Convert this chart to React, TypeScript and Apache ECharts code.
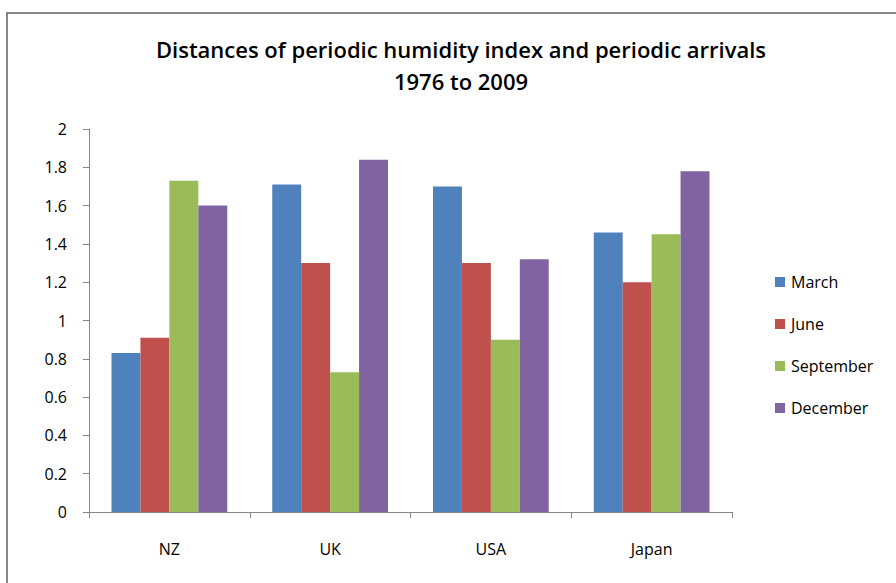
import React, { useEffect, useRef } from "react";
import * as echarts from "echarts";

const categories = ["NZ", "UK", "USA", "Japan"];
const seriesNames = ["March", "June", "September", "December"];
const march = [0.83, 1.71, 1.7, 1.46];
const june = [0.91, 1.3, 1.3, 1.2];
const september = [1.73, 0.73, 0.9, 1.45];
const december = [1.6, 1.84, 1.32, 1.78];
const colors = ["#4F81BD", "#C0504D", "#9BBB59", "#8064A2"];

const FONT = "'Open Sans', Lato, sans-serif";

export default function App() {
  const ref = useRef<HTMLDivElement>(null);
  useEffect(() => {
    if (!ref.current) return;
    const chart = echarts.init(ref.current, null, { renderer: "svg" });
    const values = [march, june, september, december];
    chart.setOption({
      animation: false,
      backgroundColor: "#ffffff",
      textStyle: { fontFamily: FONT },
      title: {
        text: "Distances of periodic humidity index and periodic arrivals\n1976 to 2009",
        left: 456,
        textAlign: "center",
        top: 28,
        textStyle: {
          fontFamily: FONT,
          fontSize: 22,
          fontWeight: 600,
          color: "#000",
          lineHeight: 32,
        },
      },
      graphic: [
        {
          type: "rect",
          shape: { x: 7, y: 13, width: 900, height: 600 },
          style: { fill: "none", stroke: "#888888", lineWidth: 2 },
          silent: true,
        },
      ],
      legend: {
        orient: "vertical",
        left: 770,
        top: 269,
        itemWidth: 10,
        itemHeight: 10,
        itemGap: 26,
        icon: "rect",
        textStyle: { fontFamily: FONT, fontSize: 16, color: "#000", padding: [0, 0, 0, 1] },
        data: seriesNames,
      },
      grid: { left: 89, right: 164, top: 129, bottom: 71, containLabel: false },
      xAxis: {
        type: "category",
        data: categories,
        axisLine: { lineStyle: { color: "#868686", width: 1 } },
        axisTick: { show: true, length: 6, lineStyle: { color: "#868686" } },
        axisLabel: { fontFamily: FONT, fontSize: 16, color: "#000", margin: 29 },
      },
      yAxis: {
        type: "value",
        min: 0,
        max: 2,
        interval: 0.2,
        splitLine: { show: false },
        axisLine: { show: true, lineStyle: { color: "#868686", width: 1 } },
        axisTick: { show: true, length: 6, lineStyle: { color: "#868686" } },
        axisLabel: {
          fontFamily: FONT,
          fontSize: 16,
          color: "#000",
          margin: 22,
          formatter: (v: number) => String(Math.round(v * 10) / 10),
        },
      },
      series: seriesNames.map((name, i) => ({
        name,
        type: "bar",
        data: values[i],
        barGap: "0%",
        barCategoryGap: "28%",
        itemStyle: { color: colors[i] },
      })),
    });
    return () => chart.dispose();
  }, []);
  return (
    <div
      ref={ref}
      style={{ position: "fixed", left: 0, top: 0, width: 896, height: 583 }}
    />
  );
}
